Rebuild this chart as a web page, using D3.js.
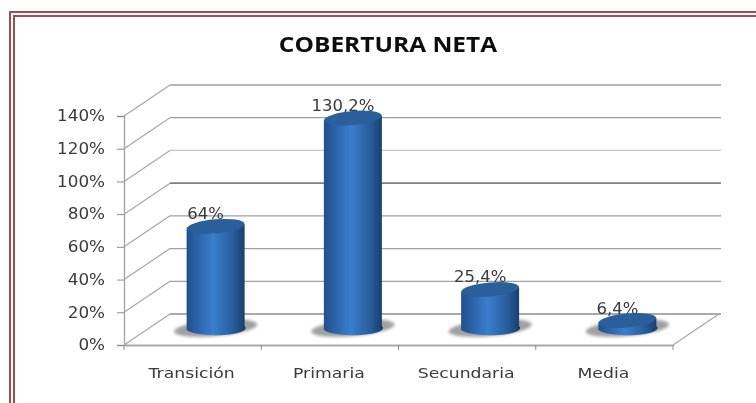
<!DOCTYPE html>
<html>
<head>
<meta charset="utf-8">
<script src="https://cdn.jsdelivr.net/npm/d3@7"></script>
<style>
  html, body { margin: 0; padding: 0; background: #fff; }
  svg { display: block; }
  text { fill: #3a3a3a; font-family: "DejaVu Sans", sans-serif; }
</style>
</head>
<body>
<div id="chart"></div>
<script>
// Chart data
const categories = ["Transición", "Primaria", "Secundaria", "Media"];
const values = [64, 130.2, 25.4, 6.4];
const valueLabels = ["64%", "130,2%", "25,4%", "6,4%"];
const ticks = [0, 20, 40, 60, 80, 100, 120, 140];

const width = 756, height = 403;
// depth of the 3d floor
const depthX = 46, depthY = 31;

const svg = d3.select("#chart").append("svg")
  .attr("width", width)
  .attr("height", height);

const defs = svg.append("defs");

const barGrad = defs.append("linearGradient").attr("id", "barGrad");
barGrad.append("stop").attr("offset", "0%").attr("stop-color", "#214f8e");
barGrad.append("stop").attr("offset", "45%").attr("stop-color", "#3b7ecd");
barGrad.append("stop").attr("offset", "80%").attr("stop-color", "#275b98");
barGrad.append("stop").attr("offset", "100%").attr("stop-color", "#183c6b");

defs.append("filter").attr("id", "soft")
  .append("feGaussianBlur").attr("stdDeviation", 0.45);
defs.append("filter").attr("id", "shadowBlur")
  .attr("x", "-20%").attr("width", "140%")
  .attr("y", "-40%").attr("height", "180%")
  .append("feGaussianBlur").attr("stdDeviation", 1.5);

// Double red frame, open on the right and bottom
const frame = svg.append("g").attr("fill", "none").attr("stroke", "#a04c4c");
frame.append("path").attr("d", "M10,403V12H756").attr("stroke-width", 2);
frame.append("path").attr("d", "M14,403V16H756").attr("stroke-width", 2);

const root = svg.append("g").attr("filter", "url(#soft)");

// Scales
const x = d3.scaleBand().domain(categories).range([124, 673]);
const y = d3.scaleLinear().domain([0, 140]).range([345, 116]);

// Side wall diagonals
root.append("g").selectAll("line")
  .data(ticks)
  .enter()
  .append("line")
  .attr("x1", 124)
  .attr("y1", d => y(d))
  .attr("x2", 124 + depthX)
  .attr("y2", d => y(d) - depthY)
  .attr("stroke", "#a6a6a6")
  .attr("stroke-width", 1.2);

// Back wall lines
root.append("g").selectAll("line")
  .data(ticks)
  .enter()
  .append("line")
  .attr("x1", 124 + depthX)
  .attr("y1", d => y(d) - depthY)
  .attr("x2", 721)
  .attr("y2", d => y(d) - depthY)
  .attr("stroke", d => d === 80 ? "#808080" : d === 100 ? "#c8c8c8" : d === 0 ? "#8c8c8c" : "#a0a0a0")
  .attr("stroke-width", d => d === 80 || d === 0 ? 1.7 : 1.3);

// Right edge of the floor
root.append("line")
  .attr("x1", 673)
  .attr("y1", y(0))
  .attr("x2", 719)
  .attr("y2", y(0) - depthY)
  .attr("stroke", "#a6a6a6")
  .attr("stroke-width", 1.2);

// Axes
const xAxis = d3.axisBottom(x).tickValues([]).tickSize(0);
const yAxis = d3.axisLeft(y)
  .tickValues(ticks)
  .tickFormat(d => d + "%")
  .tickSize(7)
  .tickPadding(12);

const gx = root.append("g")
  .attr("transform", "translate(0," + y(0) + ")")
  .call(xAxis);
gx.select(".domain").attr("stroke", "#a8a8a8").attr("stroke-width", 2);

// category ticks sit at the band edges
gx.selectAll(".edge")
  .data(categories.concat([""]))
  .enter()
  .append("line")
  .attr("class", "edge")
  .attr("x1", (d, i) => i < categories.length ? x(d) : x.range()[1])
  .attr("x2", (d, i) => i < categories.length ? x(d) : x.range()[1])
  .attr("y1", 0)
  .attr("y2", 5)
  .attr("stroke", "#8c8c8c");

// the original picture is stretched sideways, so the text is too
gx.selectAll(".cat")
  .data(categories)
  .enter()
  .append("text")
  .attr("class", "cat")
  .attr("text-anchor", "middle")
  .attr("transform", d => "translate(" + (x(d) + x.bandwidth() / 2 - 1) + ",33) scale(1.19,1)")
  .style("font-size", "14.5px")
  .text(d => d);

const gy = root.append("g")
  .attr("transform", "translate(124,0)")
  .call(yAxis);
gy.select(".domain").attr("stroke", "#a6a6a6").attr("stroke-width", 1.4);
gy.selectAll(".tick line").attr("stroke", "#8c8c8c");
gy.selectAll(".tick text")
  .attr("x", -19 / 1.12)
  .attr("transform", "scale(1.12,1)")
  .style("font-size", "15px")
  .style("font-family", '"DejaVu Sans", sans-serif')
  .attr("fill", "#3a3a3a");

// Cylinders
const barW = 58, ry = 7;
const baseY = 331; // base centre sits 14px behind the front edge
const cx = d => x(d) + x.bandwidth() / 2 + 23;
const topY = (v) => y(v) - (y(0) - baseY);

const bars = root.append("g").selectAll("g")
  .data(categories.map((c, i) => ({ cat: c, value: values[i], label: valueLabels[i] })))
  .enter()
  .append("g");

bars.append("ellipse")
  .attr("cx", d => cx(d.cat))
  .attr("cy", 328)
  .attr("rx", 42)
  .attr("ry", 8)
  .attr("fill", "#a0a0a0")
  .attr("transform", d => "rotate(-5 " + cx(d.cat) + " 328)")
  .attr("filter", "url(#shadowBlur)");

// value labels go under the cylinder tops, the tops clip them a little
bars.append("text")
  .attr("text-anchor", "middle")
  .attr("transform", d => "translate(" + (cx(d.cat) - 10) + "," + (topY(d.value) - 7) + ") scale(1.1,1)")
  .style("font-size", "15px")
  .text(d => d.label);

bars.append("path")
  .attr("fill", "url(#barGrad)")
  .attr("d", d => {
    const l = cx(d.cat) - barW / 2, r = cx(d.cat) + barW / 2, t = topY(d.value);
    return "M" + l + "," + (t + 2) +
      "V" + (baseY - 1) +
      "A" + (barW / 2) + "," + ry + " 0 0 0 " + r + "," + (baseY - 5) +
      "V" + (t - 2) +
      "Z";
  });

bars.append("ellipse")
  .attr("cx", d => cx(d.cat))
  .attr("cy", d => topY(d.value))
  .attr("rx", barW / 2)
  .attr("ry", ry)
  .attr("fill", "#2b5e9c")
  .attr("transform", d => "rotate(-5 " + cx(d.cat) + " " + topY(d.value) + ")");

// Title
root.append("text")
  .attr("text-anchor", "middle")
  .attr("transform", "translate(388,52) scale(1.14,1)")
  .style("font-family", '"Open Sans", sans-serif')
  .style("font-weight", "700")
  .style("font-size", "21.5px")
  .style("fill", "#111")
  .text("COBERTURA NETA");
</script>
</body>
</html>
